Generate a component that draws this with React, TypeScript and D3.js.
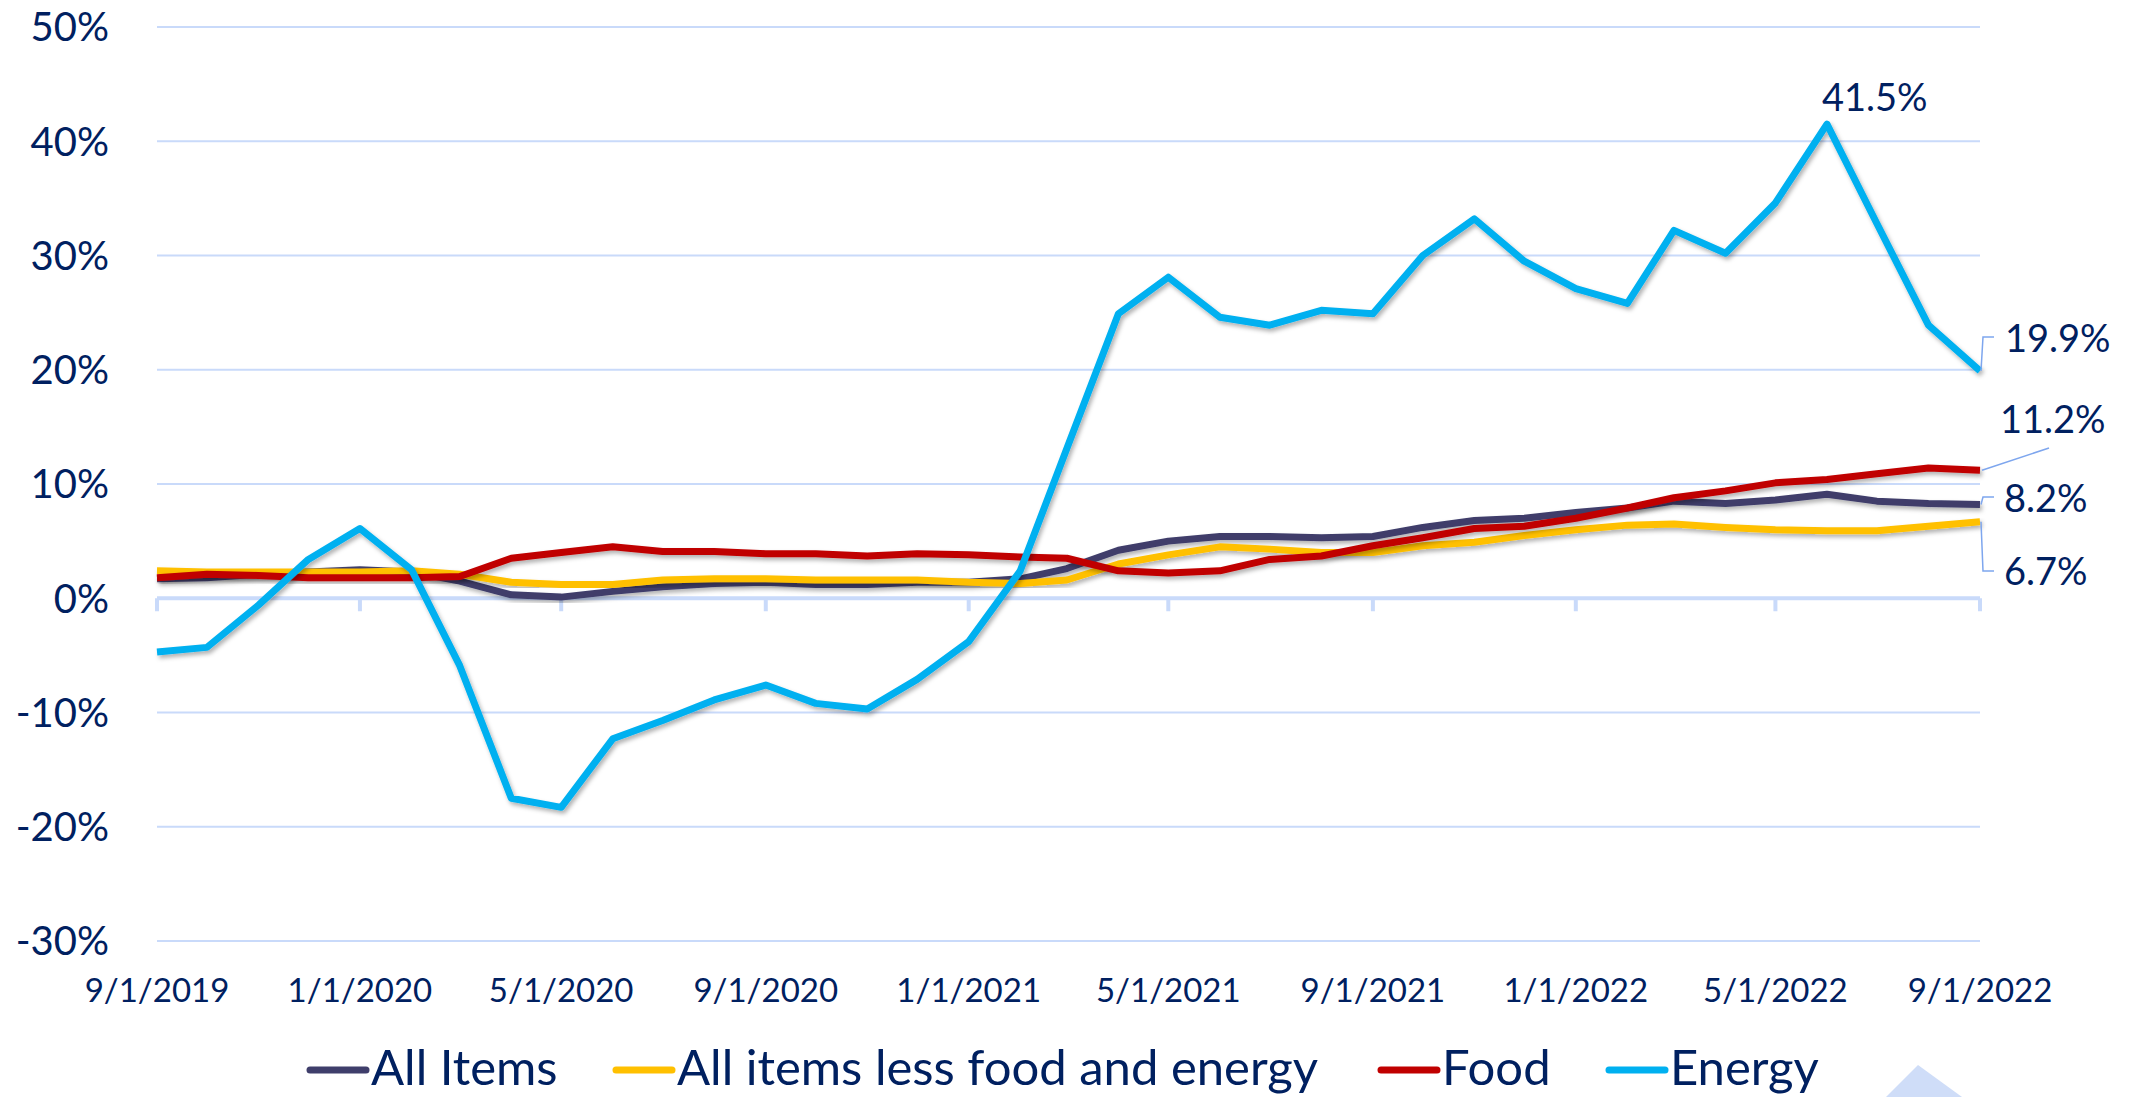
import React, { useEffect, useRef } from "react";
import * as d3 from "d3";

const months = [
  "2019-09-01", "2019-10-01", "2019-11-01", "2019-12-01",
  "2020-01-01", "2020-02-01", "2020-03-01", "2020-04-01", "2020-05-01", "2020-06-01",
  "2020-07-01", "2020-08-01", "2020-09-01", "2020-10-01", "2020-11-01", "2020-12-01",
  "2021-01-01", "2021-02-01", "2021-03-01", "2021-04-01", "2021-05-01", "2021-06-01",
  "2021-07-01", "2021-08-01", "2021-09-01", "2021-10-01", "2021-11-01", "2021-12-01",
  "2022-01-01", "2022-02-01", "2022-03-01", "2022-04-01", "2022-05-01", "2022-06-01",
  "2022-07-01", "2022-08-01", "2022-09-01",
];

const allItems = [1.7, 1.8, 2.1, 2.3, 2.5, 2.3, 1.5, 0.3, 0.1, 0.6, 1.0, 1.3, 1.4, 1.2, 1.2, 1.4, 1.4, 1.7, 2.6, 4.2, 5.0, 5.4, 5.4, 5.3, 5.4, 6.2, 6.8, 7.0, 7.5, 7.9, 8.5, 8.3, 8.6, 9.1, 8.5, 8.3, 8.2];
const core = [2.4, 2.3, 2.3, 2.3, 2.3, 2.4, 2.1, 1.4, 1.2, 1.2, 1.6, 1.7, 1.7, 1.6, 1.6, 1.6, 1.4, 1.3, 1.6, 3.0, 3.8, 4.5, 4.3, 4.0, 4.0, 4.6, 4.9, 5.5, 6.0, 6.4, 6.5, 6.2, 6.0, 5.9, 5.9, 6.3, 6.7];
const food = [1.8, 2.1, 2.0, 1.8, 1.8, 1.8, 1.9, 3.5, 4.0, 4.5, 4.1, 4.1, 3.9, 3.9, 3.7, 3.9, 3.8, 3.6, 3.5, 2.4, 2.2, 2.4, 3.4, 3.7, 4.6, 5.3, 6.1, 6.3, 7.0, 7.9, 8.8, 9.4, 10.1, 10.4, 10.9, 11.4, 11.2];
const energy = [-4.7, -4.3, -0.6, 3.4, 6.1, 2.5, -5.9, -17.5, -18.3, -12.3, -10.7, -8.9, -7.6, -9.2, -9.7, -7.1, -3.8, 2.4, 13.1, 24.9, 28.1, 24.6, 23.9, 25.2, 24.9, 30.0, 33.2, 29.5, 27.1, 25.8, 32.2, 30.2, 34.6, 41.5, 32.8, 23.9, 19.9];

const seriesNames = ["All Items", "All items less food and energy", "Food", "Energy"];
const seriesColors = ["#3f3e6b", "#ffc000", "#c00000", "#00b0f0"];
const yTicks = [-30, -20, -10, 0, 10, 20, 30, 40, 50];
const xTickLabels = ["9/1/2019", "1/1/2020", "5/1/2020", "9/1/2020", "1/1/2021", "5/1/2021", "9/1/2021", "1/1/2022", "5/1/2022", "9/1/2022"];

const W = 2138;
const H = 1097;
const FONT = "Lato, 'Open Sans', sans-serif";
const TEXT = "#002060";
const GRID = "#c9dafa";

const App = () => {
  const svgRef = useRef(null);

  useEffect(() => {
    const parse = d3.timeParse("%Y-%m-%d");
    const fmt = d3.timeFormat("%-m/%-d/%Y");
    const dates = months.map((m) => parse(m));
    const series = [allItems, core, food, energy];

    const x = d3
      .scaleTime()
      .domain(d3.extent(dates))
      .range([157, 1980]);
    const y = d3.scaleLinear().domain([-30, 50]).range([941, 27]);

    const svg = d3.select(svgRef.current);
    svg.selectAll("*").remove();

    // soft shadow under the lines, like the Excel effect
    const defs = svg.append("defs");
    defs
      .append("filter")
      .attr("id", "shadow")
      .attr("x", "-5%")
      .attr("y", "-5%")
      .attr("width", "110%")
      .attr("height", "110%")
      .append("feDropShadow")
      .attr("dx", 2)
      .attr("dy", 3)
      .attr("stdDeviation", 2)
      .attr("flood-color", "#000")
      .attr("flood-opacity", 0.3);

    // gridlines
    svg
      .append("g")
      .selectAll("line")
      .data(yTicks.filter((t) => t !== 0))
      .join("line")
      .attr("x1", x.range()[0])
      .attr("x2", x.range()[1])
      .attr("y1", (d) => y(d))
      .attr("y2", (d) => y(d))
      .attr("stroke", GRID)
      .attr("stroke-width", 2);

    // y labels
    svg
      .append("g")
      .selectAll("text")
      .data(yTicks)
      .join("text")
      .attr("x", 109)
      .attr("y", (d) => y(d))
      .attr("dy", "0.36em")
      .attr("text-anchor", "end")
      .attr("font-family", FONT)
      .attr("font-size", 40)
      .attr("fill", TEXT)
      .text((d) => `${d}%`);

    // x axis at 0 with ticks
    const tickDates = xTickLabels.map((s) => d3.timeParse("%m/%d/%Y")(s));
    const axis = svg.append("g");
    axis
      .append("line")
      .attr("x1", x.range()[0])
      .attr("x2", x.range()[1])
      .attr("y1", y(0))
      .attr("y2", y(0))
      .attr("stroke", GRID)
      .attr("stroke-width", 4);
    axis
      .selectAll("line.tick")
      .data(tickDates)
      .join("line")
      .attr("class", "tick")
      .attr("x1", (d) => x(d))
      .attr("x2", (d) => x(d))
      .attr("y1", y(0))
      .attr("y2", y(0) + 13)
      .attr("stroke", GRID)
      .attr("stroke-width", 4);
    svg
      .append("g")
      .selectAll("text")
      .data(tickDates)
      .join("text")
      .attr("x", (d) => x(d))
      .attr("y", 1002)
      .attr("text-anchor", "middle")
      .attr("font-family", FONT)
      .attr("font-size", 33)
      .attr("fill", TEXT)
      .text((d) => fmt(d));

    // lines
    const line = d3
      .line()
      .x((d) => x(d[0]))
      .y((d) => y(d[1]));

    series.forEach((vals, i) => {
      svg
        .append("path")
        .datum(vals.map((v, j) => [dates[j], v]))
        .attr("fill", "none")
        .attr("stroke", seriesColors[i])
        .attr("stroke-width", 7)
        .attr("stroke-linejoin", "round")
        .attr("filter", "url(#shadow)")
        .attr("d", line);
    });

    // data labels
    const last = dates.length - 1;
    const ex = x(dates[last]);
    const peakIdx = d3.maxIndex(energy);
    const lbl = svg.append("g").attr("font-family", FONT).attr("font-size", 38).attr("fill", TEXT);
    lbl
      .append("text")
      .attr("x", x(dates[peakIdx]) - 5)
      .attr("y", y(energy[peakIdx]) - 13)
      .text(`${energy[peakIdx].toFixed(1)}%`);

    const leader = svg
      .append("g")
      .attr("fill", "none")
      .attr("stroke", "#7ea6ee")
      .attr("stroke-width", 1.5);

    // energy end
    leader
      .append("polyline")
      .attr("points", `${ex + 1},${y(energy[last])} ${ex + 3},${337} ${ex + 14},${337}`);
    lbl.append("text").attr("x", ex + 25).attr("y", 352).text(`${energy[last].toFixed(1)}%`);

    // food end
    leader
      .append("polyline")
      .attr("points", `${ex + 2},${y(food[last])} ${ex + 69},${448}`);
    lbl.append("text").attr("x", ex + 20).attr("y", 433).text(`${food[last].toFixed(1)}%`);

    // all items end
    leader
      .append("polyline")
      .attr("points", `${ex + 1},${y(allItems[last])} ${ex + 3},${497} ${ex + 14},${497}`);
    lbl.append("text").attr("x", ex + 24).attr("y", 512).text(`${allItems[last].toFixed(1)}%`);

    // core end
    leader
      .append("polyline")
      .attr("points", `${ex + 1},${y(core[last])} ${ex + 3},${571} ${ex + 14},${571}`);
    lbl.append("text").attr("x", ex + 24).attr("y", 585).text(`${core[last].toFixed(1)}%`);

    // legend
    const legendX = [310, 616, 1381, 1609];
    const legend = svg.append("g");
    seriesNames.forEach((name, i) => {
      legend
        .append("line")
        .attr("x1", legendX[i])
        .attr("x2", legendX[i] + 56)
        .attr("y1", 1070)
        .attr("y2", 1070)
        .attr("stroke", seriesColors[i])
        .attr("stroke-width", 7)
        .attr("stroke-linecap", "round");
      legend
        .append("text")
        .attr("x", legendX[i] + 61)
        .attr("y", 1085)
        .attr("font-family", FONT)
        .attr("font-size", 49)
        .attr("fill", TEXT)
        .text(name);
    });

    // decorative slide triangle, bottom right
    svg
      .append("polygon")
      .attr("points", `1918,1065 1886,1097 1962,1097`)
      .attr("fill", "#cfddf8");
  }, []);

  return (
    <svg
      ref={svgRef}
      width={W}
      height={H}
      style={{ position: "absolute", left: 0, top: 0, background: "#fff" }}
    ></svg>
  );
};

export default App;
